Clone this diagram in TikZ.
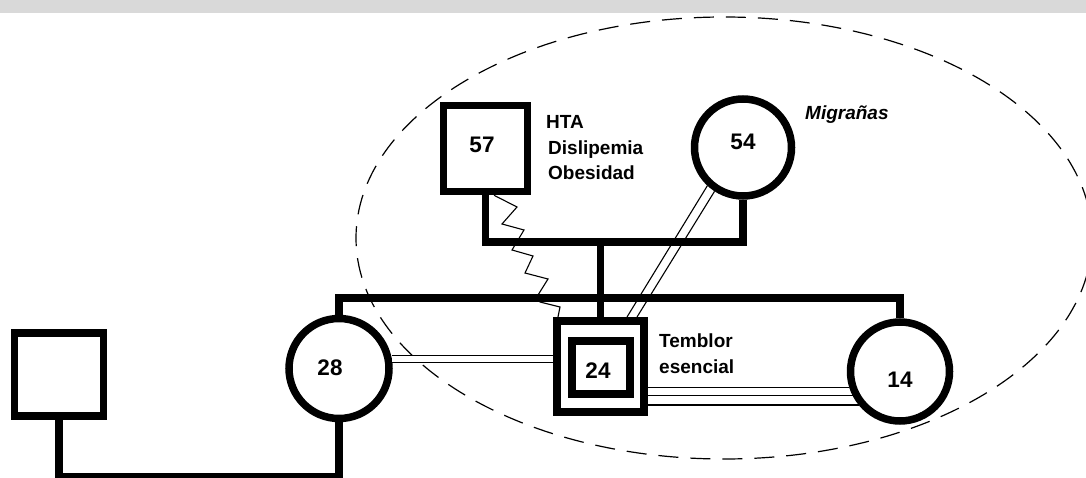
\documentclass[tikz,border=0pt]{standalone}
\usepackage{fontspec}
\setmainfont{Liberation Sans}
\usetikzlibrary{calc}
\definecolor{barcol}{HTML}{D9D9D9}
\begin{document}
\begin{tikzpicture}[x=1pt,y=-1pt,
  sq/.style={draw, rectangle, line width=7.5pt, inner sep=0pt},
  ci/.style={draw, circle, line width=7.5pt, inner sep=0pt},
  rel/.style={line width=7.5pt, line join=miter},
  thinrel/.style={line width=1.1pt},
  num/.style={font=\bfseries\fontsize{22.5}{22.5}\selectfont, inner sep=0pt, anchor=base},
  lab/.style={font=\bfseries\fontsize{19}{19}\selectfont, inner sep=0pt, anchor=base west}]
\useasboundingbox (0,0) rectangle (1086,478);
\fill[barcol] (0,0) rectangle (1086,13);
% dashed ellipse
\draw[line width=1.2pt, dash pattern=on 20pt off 12pt] (724,238) ellipse [x radius=368pt, y radius=221pt];
% persons
\node[sq, minimum width=84pt, minimum height=86pt] (m57) at (485.5,148.5) {};
\node[ci, minimum size=97pt] (f54) at (743,147.5) {};
\node[ci, minimum size=100pt] (f28) at (339,368.5) {};
\node[sq, line width=8pt, minimum width=87pt, minimum height=91pt] (p24) at (600.5,366.5) {};
\node[sq, line width=8pt, minimum width=58pt, minimum height=53pt] (p24i) at (600.5,367.5) {};
\node[ci, minimum size=99pt] (f14) at (900,371.5) {};
\node[sq, minimum width=89pt, minimum height=83pt] (u) at (59,374.5) {};
% helper coordinates
\coordinate (mar) at (600.5,242);
\coordinate (sib) at (600.5,298);
\coordinate (bl) at (200,476.5);
% pedigree lines
\draw[rel] (m57.south) |- (mar) -| (f54.south);
\draw[rel] (mar) -- (p24.north);
\draw[rel] (f28.north) |- (sib) -| (f14.north);
\draw[rel] (u.south) |- (bl) -| (f28.south);
% relationship lines
\draw[thinrel, double distance=5.8pt] (f28.10) -- (f28.10 -| p24.west);
\foreach \a in {197,207.5,219.2} \draw[thinrel] (f14.\a) -- (f14.\a -| p24.east);
\draw[thinrel] (f54.227.7) -- ($(p24.north)+(26.5,0)$);
\draw[thinrel] (f54.237.5) -- ($(p24.north)+(36.5,0)$);
\draw[thinrel, line join=miter] ($(m57.south)+(8.5,0)$) -- (517,207) -- (502,224) -- (524,230) -- (512,250) -- (533,256) -- (525,273) -- (548,279) -- (538,295) -- (540,302) -- (560,307) -- ($(p24.north)+(-42.5,0)$);
% numbers
\node[num] (t57) at (482,153) {57};
\node[num] (t54) at (743,150) {54};
\node[num] (t28) at (330,375) {28};
\node[num] (t24) at (598,378) {24};
\node[num] (t14) at (900,387) {14};
% labels
\node[lab] (l1) at (546,129) {HTA};
\node[lab] (l2) at (548,155) {Dislipemia};
\node[lab] (l3) at (548,180) {Obesidad};
\node[lab, font=\bfseries\itshape\fontsize{19}{19}\selectfont] (l4) at (805,120) {Migrañas};
\node[lab] (l5) at (659,347) {Temblor};
\node[lab] (l6) at (659,373) {esencial};
\end{tikzpicture}
\end{document}
